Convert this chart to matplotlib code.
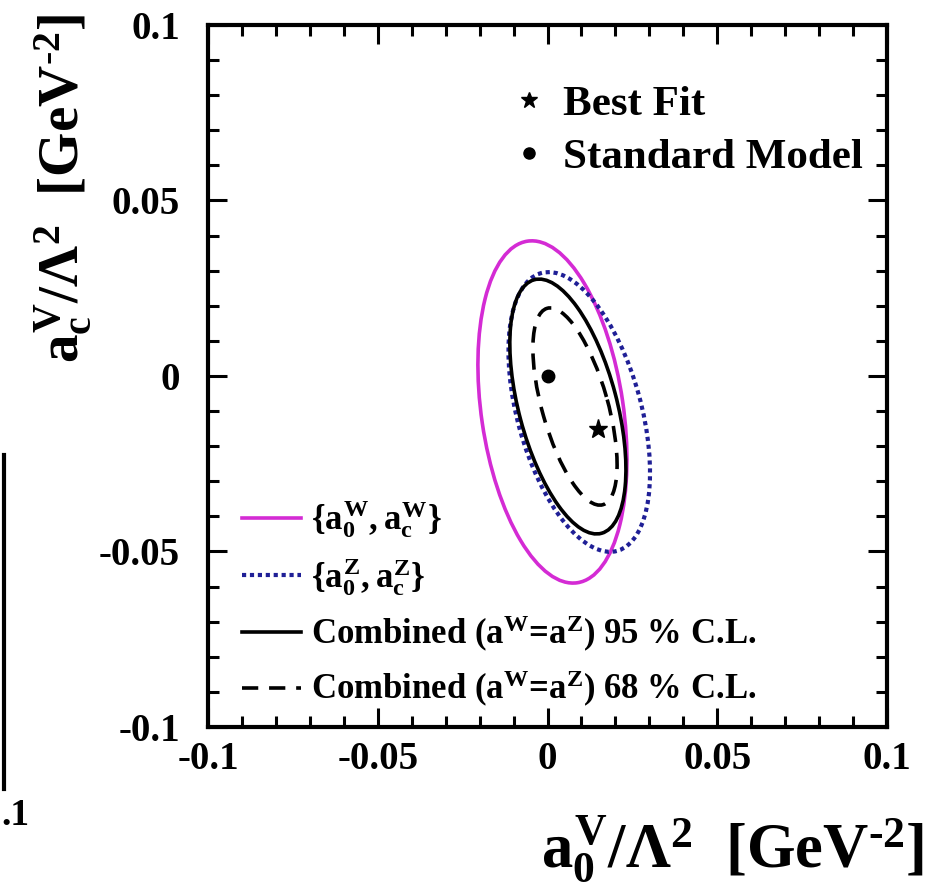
import numpy as np
import matplotlib.pyplot as plt
from matplotlib.patches import Ellipse
from matplotlib.lines import Line2D

plt.rcParams['font.family'] = ['Liberation Serif', 'DejaVu Serif']
plt.rcParams['font.weight'] = 'bold'
plt.rcParams['mathtext.fontset'] = 'custom'
plt.rcParams['mathtext.rm'] = 'Liberation Serif:bold'
plt.rcParams['mathtext.it'] = 'Liberation Serif:bold'
plt.rcParams['mathtext.bf'] = 'Liberation Serif:bold'

# extreme points of each contour
# order: {a0W, acW}, {a0Z, acZ}, combined 95 %, combined 68 %
top_x = [-0.0057, 0.0007, -0.0028, -0.0013]
top_y = [0.0385, 0.0296, 0.0276, 0.0194]
bot_x = [0.0087, 0.0190, 0.0146, 0.0134]
bot_y = [-0.0590, -0.0501, -0.0450, -0.0368]
left_x = [-0.0205, -0.0115, -0.0111, -0.0043]
left_y = [-0.0070, 0.0060, 0.0074, 0.0123]
right_x = [0.0234, 0.0302, 0.0231, 0.0205]
right_y = [-0.0220, -0.0276, -0.0259, -0.0202]

labels = [r'$\{a_0^W, a_c^W\}$',
          r'$\{a_0^Z, a_c^Z\}$',
          r'Combined (a$^W$=a$^Z$) 95 % C.L.',
          r'Combined (a$^W$=a$^Z$) 68 % C.L.']
colors = ['#d42bd4', '#1f1f96', 'black', 'black']
styles = ['-', (0, (1.0, 0.9)), '-', (0, (4.5, 3.0))]
widths = [2.6, 3.0, 2.6, 2.6]

best_fit = (0.0149, -0.0151)
standard_model = (0.0, 0.0)

fig = plt.figure(figsize=(9.32, 8.92), dpi=100)
ax = fig.add_axes([0.2232, 0.185, 0.7285, 0.787])

handles = []
for i in range(4):
    # centre: x from left/right extremes, y from top/bottom extremes
    cx = (left_x[i] + right_x[i]) / 2
    cy = (top_y[i] + bot_y[i]) / 2
    hx = (right_x[i] - left_x[i]) / 2
    hy = (top_y[i] - bot_y[i]) / 2
    # tilt term, from where the top/bottom and left/right extremes sit
    m1 = hy * (top_x[i] - bot_x[i]) / 2
    m2 = hx * (right_y[i] - left_y[i]) / 2
    m = 0.7 * m1 + 0.3 * m2
    w, v = np.linalg.eigh(np.array([[hx**2, m], [m, hy**2]]))
    ang = np.degrees(np.arctan2(v[1, 1], v[0, 1]))
    e = Ellipse((cx, cy), 2 * np.sqrt(w[1]), 2 * np.sqrt(w[0]), angle=ang,
                fill=False, edgecolor=colors[i], linestyle=styles[i],
                linewidth=widths[i])
    ax.add_patch(e)
    handles.append(Line2D([], [], color=colors[i], linestyle=styles[i],
                          linewidth=widths[i]))

ax.plot(*best_fit, marker='*', color='black', markersize=14, linestyle='none')
ax.plot(*standard_model, marker='o', color='black', markersize=9, linestyle='none')

leg1 = ax.legend(handles, labels, loc='lower left', bbox_to_anchor=(0.05, 0.025),
                 frameon=False, fontsize=25, handlelength=1.7,
                 handletextpad=0.3, labelspacing=0.45, borderpad=0,
                 borderaxespad=0)
ax.add_artist(leg1)

mk = [Line2D([], [], marker='*', color='black', markersize=12, linestyle='none'),
      Line2D([], [], marker='o', color='black', markersize=8, linestyle='none')]
ax.legend(mk, ['Best Fit', 'Standard Model'], loc='upper right',
          bbox_to_anchor=(0.965, 0.915), frameon=False, fontsize=31,
          handlelength=0.5, handletextpad=0.55, labelspacing=0.33,
          borderpad=0, borderaxespad=0)

ax.set_xlim(-0.1, 0.1)
ax.set_ylim(-0.1, 0.1)
ax.set_xticks([-0.1, -0.05, 0, 0.05, 0.1])
ax.set_yticks([-0.1, -0.05, 0, 0.05, 0.1])
ax.set_xticklabels(['-0.1', '-0.05', '0', '0.05', '0.1'])
ax.set_yticklabels(['-0.1', '-0.05', '0', '0.05', '0.1'])
ax.set_xticks(np.arange(-0.1, 0.1001, 0.01), minor=True)
ax.set_yticks(np.arange(-0.1, 0.1001, 0.01), minor=True)
ax.tick_params(which='both', direction='in', top=True, right=True, width=2.2)
ax.tick_params(which='major', length=14, labelsize=28)
ax.tick_params(which='minor', length=8)
ax.tick_params(axis='x', pad=10)
ax.tick_params(axis='y', pad=20)
for s in ax.spines.values():
    s.set_linewidth(3)

fig.text(0.992, 0.028, r'$a_0^V/\Lambda^2$  [GeV$^{\text{-}2}$]', ha='right',
         va='baseline', fontsize=45)
fig.text(0.068, 0.985, r'$a_c^V/\Lambda^2$  [GeV$^{\text{-}2}$]', ha='center',
         va='top', rotation=90, fontsize=41)

# edge of the neighbouring panel that is cut off on the left
fig.add_artist(Line2D([0.004, 0.004], [0.115, 0.49], color='black', linewidth=3))
fig.text(0.001, 0.075, '.1', fontsize=27)

fig.savefig('out.png', dpi=100)
